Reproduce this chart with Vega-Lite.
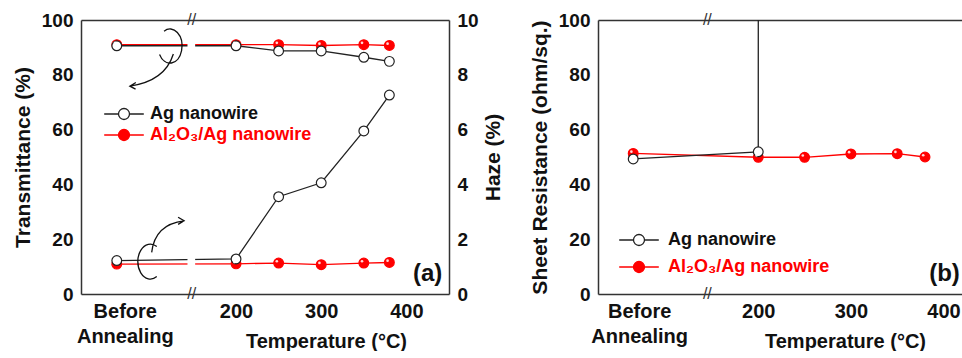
{
  "$schema": "https://vega.github.io/schema/vega-lite/v6.json",
  "background": "white",
  "padding": {"left": 12, "top": 11, "right": 0, "bottom": 0},
  "spacing": 25,
  "config": {
    "font": "Liberation Sans",
    "view": {"stroke": null},
    "axis": {
      "grid": false,
      "domainColor": "#333",
      "domainWidth": 1.5,
      "tickColor": "#333",
      "tickWidth": 1.3,
      "tickSize": 0,
      "labelFont": "Liberation Sans",
      "labelFontWeight": "bold",
      "labelColor": "#111",
      "labelFontSize": 19,
      "titleFont": "Liberation Sans",
      "titleFontWeight": "bold",
      "titleColor": "#111",
      "titleFontSize": 21
    },
    "legend": {
      "labelFont": "Liberation Sans",
      "labelFontWeight": "bold",
      "labelFontSize": 18
    }
  },
  "datasets": {
    "transA": [
      {"s": "Al₂O₃/Ag nanowire", "x": 60, "v": 91.0},
      {"s": "Al₂O₃/Ag nanowire", "x": 200, "v": 91.0},
      {"s": "Al₂O₃/Ag nanowire", "x": 250, "v": 91.0},
      {"s": "Al₂O₃/Ag nanowire", "x": 300, "v": 90.7},
      {"s": "Al₂O₃/Ag nanowire", "x": 350, "v": 91.0},
      {"s": "Al₂O₃/Ag nanowire", "x": 380, "v": 90.7},
      {"s": "Ag nanowire", "x": 60, "v": 90.6},
      {"s": "Ag nanowire", "x": 200, "v": 90.6},
      {"s": "Ag nanowire", "x": 250, "v": 88.7},
      {"s": "Ag nanowire", "x": 300, "v": 88.7},
      {"s": "Ag nanowire", "x": 350, "v": 86.4},
      {"s": "Ag nanowire", "x": 380, "v": 84.9}
    ],
    "hazeA": [
      {"s": "Al₂O₃/Ag nanowire", "x": 60, "v": 1.09},
      {"s": "Al₂O₃/Ag nanowire", "x": 200, "v": 1.10},
      {"s": "Al₂O₃/Ag nanowire", "x": 250, "v": 1.13},
      {"s": "Al₂O₃/Ag nanowire", "x": 300, "v": 1.07},
      {"s": "Al₂O₃/Ag nanowire", "x": 350, "v": 1.13},
      {"s": "Al₂O₃/Ag nanowire", "x": 380, "v": 1.15},
      {"s": "Ag nanowire", "x": 60, "v": 1.22},
      {"s": "Ag nanowire", "x": 200, "v": 1.28},
      {"s": "Ag nanowire", "x": 250, "v": 3.55},
      {"s": "Ag nanowire", "x": 300, "v": 4.06},
      {"s": "Ag nanowire", "x": 350, "v": 5.95},
      {"s": "Ag nanowire", "x": 380, "v": 7.26}
    ],
    "sheetB": [
      {"s": "Al₂O₃/Ag nanowire", "x": 65, "v": 51.3},
      {"s": "Al₂O₃/Ag nanowire", "x": 200, "v": 49.9},
      {"s": "Al₂O₃/Ag nanowire", "x": 250, "v": 49.9},
      {"s": "Al₂O₃/Ag nanowire", "x": 300, "v": 51.1},
      {"s": "Al₂O₃/Ag nanowire", "x": 350, "v": 51.2},
      {"s": "Al₂O₃/Ag nanowire", "x": 380, "v": 50.0},
      {"s": "Ag nanowire", "x": 65, "v": 49.3},
      {"s": "Ag nanowire", "x": 200, "v": 51.9},
      {"s": "Ag nanowire", "x": 250, "v": 100000}
    ]
  },
  "resolve": {
    "scale": {"fill": "independent", "stroke": "independent"},
    "legend": {"fill": "independent", "stroke": "independent"}
  },
  "hconcat": [
    {
      "width": 368,
      "height": 274,
      "layer": [
        {
          "encoding": {
            "x": {
              "field": "x", "type": "quantitative",
              "scale": {"domain": [18, 450], "nice": false, "zero": false},
              "axis": {
                "orient": "bottom",
                "values": [60, 100, 200, 250, 300, 350, 400],
                "labelExpr": "datum.value == 60 ? ['Before','Annealing'] : (indexof([200,300,400], datum.value) >= 0 ? datum.label : '')",
                "encode": {
                  "ticks": {"update": {"y2": [{"test": "indexof([60,200,300,400], datum.value) >= 0", "value": -6}, {"value": -3}]}}
                },
                "labelOffset": {"condition": {"test": "datum.value == 60", "value": 8}, "value": 0},
                "labelPadding": 7,
                "labelFontSize": 20,
                "labelLineHeight": 25,
                "labelOverlap": false,
                "labelFlush": false,
                "title": "Temperature (°C)",
                "titleFontSize": 20,
                "titleX": 245,
                "titleY": 53,
                "titleBaseline": "alphabetic",
                "titleAlign": "center"
              }
            },
            "y": {
              "field": "v", "type": "quantitative",
              "scale": {"domain": [0, 100], "nice": false},
              "axis": {
                "orient": "left",
                "values": [0, 10, 20, 30, 40, 50, 60, 70, 80, 90, 100],
                "labelExpr": "datum.value % 20 == 0 ? datum.label : ''",
                "encode": {"ticks": {"update": {"x2": [{"test": "datum.value % 20 == 0", "value": 6}, {"value": 3}]}}},
                "labelPadding": 8,
                "title": "Transmittance (%)",
                "titlePadding": 8
              }
            }
          },
          "layer": [
            {
              "data": {"name": "transA"},
              "mark": {"type": "line", "strokeWidth": 1.3},
              "encoding": {
                "stroke": {
                  "field": "s", "type": "nominal",
                  "scale": {"domain": ["Ag nanowire", "Al₂O₃/Ag nanowire"], "range": ["#222222", "#ff0000"]}
                }
              }
            },
            {
              "data": {"name": "transA"},
              "mark": {"type": "point", "filled": true, "size": 95, "strokeWidth": 1.2, "opacity": 1},
              "encoding": {
                "fill": {
                  "field": "s", "type": "nominal",
                  "scale": {"domain": ["Ag nanowire", "Al₂O₃/Ag nanowire"], "range": ["#ffffff", "#ff0000"]},
                  "legend": {
                    "orient": "none", "legendX": 34, "legendY": 85, "title": null,
                    "symbolType": "M-3.6,0L-1,0M1,0L3.6,0M-1,0A1,1 0 1,1 1,0A1,1 0 1,1 -1,0Z",
                    "symbolSize": 121, "symbolStrokeWidth": 1.3, "symbolOpacity": 1,
                    "labelOffset": 17, "rowPadding": 3, "labelLimit": 400,
                    "encode": {"labels": {"update": {"fill": {"signal": "datum.value === 'Ag nanowire' ? '#111111' : '#ff0000'"}}}}
                  }
                },
                "stroke": {
                  "field": "s", "type": "nominal",
                  "legend": {
                    "orient": "none", "legendX": 34, "legendY": 85, "title": null,
                    "symbolType": "M-3.6,0L-1,0M1,0L3.6,0M-1,0A1,1 0 1,1 1,0A1,1 0 1,1 -1,0Z",
                    "symbolSize": 121, "symbolStrokeWidth": 1.3, "symbolOpacity": 1,
                    "labelOffset": 17, "rowPadding": 3, "labelLimit": 400,
                    "encode": {"labels": {"update": {"fill": {"signal": "datum.value === 'Ag nanowire' ? '#111111' : '#ff0000'"}}}}
                  }
                }
              }
            },
            {
              "data": {"name": "transA"},
              "transform": [{"filter": "datum.s !== 'Ag nanowire'"}],
              "mark": {"type": "point", "filled": true, "size": 7, "color": "#ffffff", "opacity": 0.85, "xOffset": -1.8, "yOffset": -1.8}
            }
          ]
        },
        {
          "encoding": {
            "x": {"field": "x", "type": "quantitative", "axis": null},
            "y": {
              "field": "v", "type": "quantitative",
              "scale": {"domain": [0, 10], "nice": false},
              "axis": {
                "orient": "right",
                "values": [0, 1, 2, 3, 4, 5, 6, 7, 8, 9, 10],
                "labelExpr": "datum.value % 2 == 0 ? datum.label : ''",
                "encode": {"ticks": {"update": {"x2": [{"test": "datum.value % 2 == 0", "value": -6}, {"value": -3}]}}},
                "labelPadding": 8,
                "title": "Haze (%)",
                "titleAngle": 270,
                "titleBaseline": "top",
                "titlePadding": 4
              }
            }
          },
          "layer": [
            {
              "data": {"name": "hazeA"},
              "mark": {"type": "line", "strokeWidth": 1.3},
              "encoding": {"stroke": {"field": "s", "type": "nominal"}}
            },
            {
              "data": {"name": "hazeA"},
              "mark": {"type": "point", "filled": true, "size": 95, "strokeWidth": 1.2, "opacity": 1},
              "encoding": {
                "fill": {"field": "s", "type": "nominal"},
                "stroke": {"field": "s", "type": "nominal"}
              }
            },
            {
              "data": {"name": "hazeA"},
              "transform": [{"filter": "datum.s !== 'Ag nanowire'"}],
              "mark": {"type": "point", "filled": true, "size": 7, "color": "#ffffff", "opacity": 0.85, "xOffset": -1.8, "yOffset": -1.8}
            }
          ]
        },
        {
          "data": {"values": [{}]},
          "mark": {"type": "text", "text": "//", "fontSize": 16, "color": "#333", "baseline": "middle", "align": "center"},
          "encoding": {
            "x": {
              "datum": 148,
              "axis": {
                "orient": "top",
                "values": [60, 100, 200, 250, 300, 350, 400],
                "labels": false,
                "encode": {"ticks": {"update": {"y2": [{"test": "indexof([60,200,300,400], datum.value) >= 0", "value": 6}, {"value": 3}]}}},
                "title": null
              }
            },
            "y": {"datum": 10, "scale": {"domain": [0, 10], "nice": false}, "axis": null}
          }
        },
        {
          "layer": [
            {
              "data": {"values": [{}]},
              "mark": {"type": "rect", "fill": "white"},
              "encoding": {
                "x": {"datum": 143, "axis": null},
                "x2": {"datum": 152},
                "y": {"datum": 0.4, "scale": {"domain": [0, 10], "nice": false}, "axis": null},
                "y2": {"datum": 9.6}
              }
            },
            {
              "data": {"values": [{}]},
              "mark": {"type": "text", "text": "//", "fontSize": 16, "color": "#333", "baseline": "middle", "align": "center"},
              "encoding": {"x": {"datum": 148, "axis": null}, "y": {"datum": 0, "axis": null}}
            },
            {
              "data": {"values": [{}]},
              "mark": {"type": "point", "shape": "M0.27,-0.86A0.4,0.57 0 1,1 0.12,-0.085M0.58,-0.1Q0.3,0.8 -0.87,0.97M-0.67,0.85L-0.87,0.97L-0.68,1.07", "size": 3600, "stroke": "#111", "strokeWidth": 1.3, "filled": false, "opacity": 1},
              "encoding": {"x": {"datum": 106, "axis": null}, "y": {"datum": 8.65, "axis": null}}
            },
            {
              "data": {"values": [{}]},
              "mark": {"type": "point", "shape": "M-0.16,-0.1A0.42,0.58 0 1,0 -0.16,0.9M-0.33,0.09Q-0.22,-0.85 0.75,-0.96M0.55,-1.08L0.75,-0.96L0.55,-0.84", "size": 3600, "stroke": "#111", "strokeWidth": 1.3, "filled": false, "opacity": 1},
              "encoding": {"x": {"datum": 112.6, "axis": null}, "y": {"datum": 1.62, "axis": null}}
            },
            {
              "data": {"values": [{}]},
              "mark": {"type": "text", "text": "(a)", "fontSize": 24, "fontWeight": "bold", "color": "#111", "baseline": "middle", "align": "center"},
              "encoding": {"x": {"datum": 425, "axis": null}, "y": {"datum": 0.73, "axis": null}}
            }
          ]
        }
      ],
      "resolve": {"scale": {"y": "independent"}, "axis": {"x": "independent", "y": "independent"}}
    },
    {
      "width": 365,
      "height": 274,
      "layer": [
        {
          "encoding": {
            "x": {
              "field": "x", "type": "quantitative",
              "scale": {"domain": [27, 421], "nice": false, "zero": false},
              "axis": {
                "orient": "bottom",
                "values": [65, 105, 200, 250, 300, 350, 400],
                "labelExpr": "datum.value == 65 ? ['Before','Annealing'] : (indexof([200,300,400], datum.value) >= 0 ? datum.label : '')",
                "encode": {
                  "ticks": {"update": {"y2": [{"test": "indexof([65,200,300,400], datum.value) >= 0", "value": -6}, {"value": -3}]}}
                },
                "labelOffset": {"condition": {"test": "datum.value == 65", "value": 6}, "value": 0},
                "labelPadding": 7,
                "labelFontSize": 20,
                "labelLineHeight": 25,
                "labelOverlap": false,
                "labelFlush": false,
                "title": "Temperature (°C)",
                "titleFontSize": 20,
                "titleX": 247,
                "titleY": 53,
                "titleBaseline": "alphabetic",
                "titleAlign": "center"
              }
            },
            "y": {
              "field": "v", "type": "quantitative",
              "scale": {"domain": [0, 100], "nice": false},
              "axis": {
                "orient": "left",
                "values": [0, 10, 20, 30, 40, 50, 60, 70, 80, 90, 100],
                "labelExpr": "datum.value % 20 == 0 ? datum.label : ''",
                "encode": {"ticks": {"update": {"x2": [{"test": "datum.value % 20 == 0", "value": 6}, {"value": 3}]}}},
                "labelPadding": 8,
                "title": "Sheet Resistance (ohm/sq.)",
                "titlePadding": 8
              }
            }
          },
          "layer": [
            {
              "data": {"name": "sheetB"},
              "mark": {"type": "line", "strokeWidth": 1.3, "clip": true},
              "encoding": {
                "stroke": {
                  "field": "s", "type": "nominal",
                  "scale": {"domain": ["Ag nanowire", "Al₂O₃/Ag nanowire"], "range": ["#222222", "#ff0000"]}
                }
              }
            },
            {
              "data": {"name": "sheetB"},
              "mark": {"type": "point", "filled": true, "size": 95, "strokeWidth": 1.2, "opacity": 1, "clip": true},
              "encoding": {
                "fill": {
                  "field": "s", "type": "nominal",
                  "scale": {"domain": ["Ag nanowire", "Al₂O₃/Ag nanowire"], "range": ["#ffffff", "#ff0000"]},
                  "legend": {
                    "orient": "none", "legendX": 32, "legendY": 211, "title": null,
                    "symbolType": "M-3.6,0L-1,0M1,0L3.6,0M-1,0A1,1 0 1,1 1,0A1,1 0 1,1 -1,0Z",
                    "symbolSize": 121, "symbolStrokeWidth": 1.3, "symbolOpacity": 1,
                    "labelOffset": 20, "rowPadding": 9, "labelLimit": 400,
                    "encode": {"labels": {"update": {"fill": {"signal": "datum.value === 'Ag nanowire' ? '#111111' : '#ff0000'"}}}}
                  }
                },
                "stroke": {
                  "field": "s", "type": "nominal",
                  "legend": {
                    "orient": "none", "legendX": 32, "legendY": 211, "title": null,
                    "symbolType": "M-3.6,0L-1,0M1,0L3.6,0M-1,0A1,1 0 1,1 1,0A1,1 0 1,1 -1,0Z",
                    "symbolSize": 121, "symbolStrokeWidth": 1.3, "symbolOpacity": 1,
                    "labelOffset": 20, "rowPadding": 9, "labelLimit": 400,
                    "encode": {"labels": {"update": {"fill": {"signal": "datum.value === 'Ag nanowire' ? '#111111' : '#ff0000'"}}}}
                  }
                }
              }
            },
            {
              "data": {"name": "sheetB"},
              "transform": [{"filter": "datum.s !== 'Ag nanowire'"}],
              "mark": {"type": "point", "filled": true, "size": 7, "color": "#ffffff", "opacity": 0.85, "xOffset": -1.8, "yOffset": -1.8, "clip": true}
            }
          ]
        },
        {
          "data": {"values": [{}]},
          "mark": {"type": "text", "text": "//", "fontSize": 16, "color": "#333", "baseline": "middle", "align": "center"},
          "encoding": {
            "x": {
              "datum": 145,
              "axis": {
                "orient": "top",
                "values": [65, 105, 200, 250, 300, 350, 400],
                "labels": false,
                "encode": {"ticks": {"update": {"y2": [{"test": "indexof([65,200,300,400], datum.value) >= 0", "value": 6}, {"value": 3}]}}},
                "title": null
              }
            },
            "y": {"datum": 100, "axis": null}
          }
        },
        {
          "layer": [
            {
              "data": {"values": [{}]},
              "mark": {"type": "text", "text": "//", "fontSize": 16, "color": "#333", "baseline": "middle", "align": "center"},
              "encoding": {"x": {"datum": 145, "axis": null}, "y": {"datum": 0, "axis": null}}
            },
            {
              "data": {"values": [{}]},
              "mark": {"type": "text", "text": "(b)", "fontSize": 24, "fontWeight": "bold", "color": "#111", "baseline": "middle", "align": "center"},
              "encoding": {"x": {"datum": 401, "axis": null}, "y": {"datum": 7.3, "axis": null}}
            }
          ]
        }
      ],
      "resolve": {"axis": {"x": "independent", "y": "independent"}}
    }
  ]
}
